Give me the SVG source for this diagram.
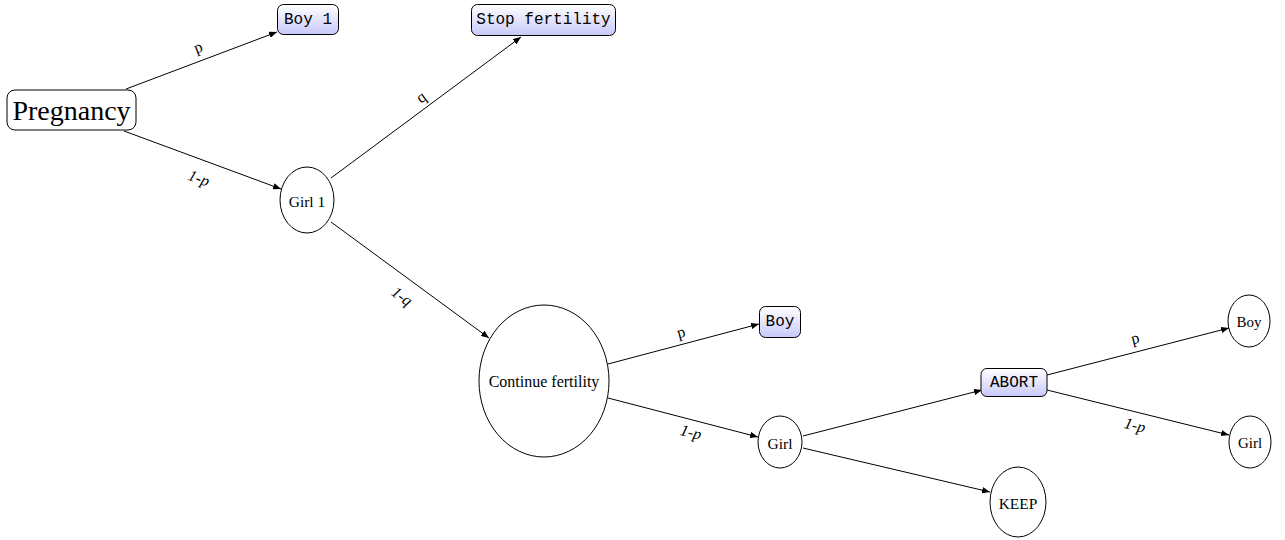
<svg xmlns="http://www.w3.org/2000/svg" width="1285" height="540" viewBox="0 0 1285 540">
<style>
.box{fill:url(#g);stroke:#000;stroke-width:1}
.nb{fill:#fff;stroke:#000;stroke-width:1}
.ell{fill:#fff;stroke:#000;stroke-width:1}
.tt{font-family:"Liberation Mono","DejaVu Sans Mono",monospace;font-size:16px;fill:#000;text-anchor:middle;dominant-baseline:central}
.sr{font-family:"Liberation Serif","DejaVu Serif",serif;fill:#000;text-anchor:middle;dominant-baseline:central}
.lb{font-family:"Liberation Serif","DejaVu Serif",serif;font-size:16px;fill:#000;text-anchor:middle;dominant-baseline:central}
.it{font-style:italic}
.edge{stroke:#000;stroke-width:1;fill:none;marker-end:url(#ar)}
</style>
<defs>
<linearGradient id="g" x1="0" y1="0" x2="0" y2="1">
<stop offset="0" stop-color="#ffffff"/>
<stop offset="1" stop-color="#c8c8fa"/>
</linearGradient>
<marker id="ar" viewBox="0 0 10 8" refX="10" refY="4" markerWidth="8" markerHeight="6.4" markerUnits="userSpaceOnUse" orient="auto">
<path d="M0,0 L10,4 L0,8 Z" fill="#000"/>
</marker>
</defs>
<g id="connectors">
<line class="edge" x1="126" y1="89" x2="277" y2="32"/>
<line class="edge" x1="124" y1="131" x2="281" y2="189"/>
<line class="edge" x1="331" y1="178" x2="521" y2="37"/>
<line class="edge" x1="331" y1="222" x2="489" y2="338"/>
<line class="edge" x1="608" y1="364" x2="759" y2="324"/>
<line class="edge" x1="608" y1="398" x2="758" y2="437"/>
<line class="edge" x1="803" y1="436" x2="982" y2="390"/>
<line class="edge" x1="803" y1="448" x2="990" y2="492"/>
<line class="edge" x1="1047" y1="375" x2="1229" y2="328"/>
<line class="edge" x1="1047" y1="390" x2="1229" y2="435"/>
<text class="lb" transform="translate(198,47) rotate(-21)">p</text>
<text class="lb it" transform="translate(199,178) rotate(20)">1-p</text>
<text class="lb" transform="translate(421,97) rotate(-37)">q</text>
<text class="lb it" transform="translate(402,296) rotate(36)">1-q</text>
<text class="lb" transform="translate(681,332) rotate(-15)">p</text>
<text class="lb it" transform="translate(691,432) rotate(14)">1-p</text>
<text class="lb" transform="translate(1135,338) rotate(-14)">p</text>
<text class="lb it" transform="translate(1135,425) rotate(14)">1-p</text>
</g>
<g id="pregnancy">
<rect class="nb" x="7" y="90" width="129" height="40" rx="8"/>
<text class="sr" x="71.5" y="110" font-size="28">Pregnancy</text>
</g>
<g id="boy1">
<rect class="box" x="277.5" y="4.5" width="61" height="30" rx="6"/>
<text class="tt" x="308" y="19.5">Boy 1</text>
</g>
<g id="stop">
<rect class="box" x="471.5" y="4.5" width="144" height="31" rx="6"/>
<text class="tt" x="543.5" y="20">Stop fertility</text>
</g>
<g id="girl1">
<ellipse class="ell" cx="307" cy="200" rx="27" ry="33"/>
<text class="sr" x="307" y="201" font-size="15.5">Girl 1</text>
</g>
<g id="continue">
<ellipse class="ell" cx="544" cy="381" rx="65" ry="76"/>
<text class="sr" x="544" y="381" font-size="16">Continue fertility</text>
</g>
<g id="boy">
<rect class="box" x="759.5" y="306.5" width="41" height="31" rx="6"/>
<text class="tt" x="780" y="322">Boy</text>
</g>
<g id="girl">
<ellipse class="ell" cx="780" cy="442" rx="22" ry="26"/>
<text class="sr" x="780" y="443" font-size="15.5">Girl</text>
</g>
<g id="abort">
<rect class="box" x="981" y="368.5" width="66" height="28" rx="6"/>
<text class="tt" x="1014" y="382.5">ABORT</text>
</g>
<g id="keep">
<ellipse class="ell" cx="1018" cy="502" rx="28" ry="35"/>
<text class="sr" x="1018" y="503" font-size="15.5">KEEP</text>
</g>
<g id="boy2">
<ellipse class="ell" cx="1249" cy="321" rx="21" ry="26"/>
<text class="sr" x="1249" y="322" font-size="15">Boy</text>
</g>
<g id="girl2">
<ellipse class="ell" cx="1250" cy="442" rx="21" ry="26"/>
<text class="sr" x="1250" y="443" font-size="15">Girl</text>
</g>
</svg>
